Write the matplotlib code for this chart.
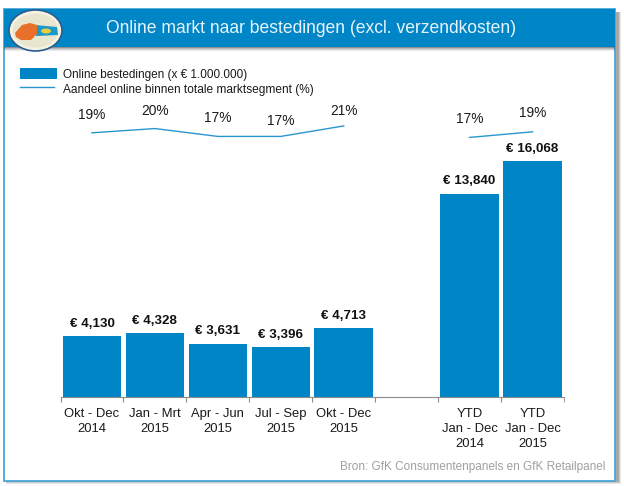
import numpy as np
import matplotlib
matplotlib.use("Agg")
import matplotlib.pyplot as plt
from matplotlib.patches import Rectangle, Ellipse, Polygon

plt.rcParams["font.family"] = ["Liberation Sans", "DejaVu Sans"]

# Data
periods = ["Okt - Dec\n2014", "Jan - Mrt\n2015", "Apr - Jun\n2015", "Jul - Sep\n2015",
           "Okt - Dec\n2015", "", "YTD\nJan - Dec\n2014", "YTD\nJan - Dec\n2015"]
spend = [4130, 4328, 3631, 3396, 4713, np.nan, 13840, 16068]
spend_labels = ["€ 4,130", "€ 4,328", "€ 3,631", "€ 3,396", "€ 4,713", "", "€ 13,840", "€ 16,068"]
share = [18.5, 19.8, 17.4, 17.4, 20.6, np.nan, 17.1, 18.8]
share_labels = ["19%", "20%", "17%", "17%", "21%", "", "17%", "19%"]

BLUE = "#0085c7"
W, H = 624, 486

fig = plt.figure(figsize=(W / 100, H / 100), dpi=100, facecolor="white")

# Overlay in pixel coordinates for the frame, header and logo
bg = fig.add_axes([0, 0, 1, 1], zorder=0)
bg.set_xlim(0, W)
bg.set_ylim(H, 0)
bg.axis("off")

# Soft shadow of the frame
for grow, alpha in [(3, 0.12), (2, 0.18), (1, 0.25)]:
    bg.add_patch(Rectangle((6, 12), 612 + grow, 469 + grow, fc="#444444", ec="none", alpha=alpha))
bg.add_patch(Rectangle((4, 9), 611, 472, fc="white", ec="#4ba6d8", lw=1.3))

# Header band and its shadow
for i, alpha in enumerate([0.55, 0.35, 0.2, 0.1]):
    bg.add_patch(Rectangle((4, 47 + i), 611, 1, fc="#333333", ec="none", alpha=alpha))
bg.add_patch(Rectangle((4, 9), 611, 38, fc=BLUE, ec="none"))
bg.text(311, 28.5, "Online markt naar bestedingen (excl. verzendkosten)", color="#e8f4fb",
        fontsize=12.65, ha="center", va="center")

# Logo
bg.add_patch(Ellipse((35.5, 30.5), 53, 41, fc="#f5f2e2", ec="#2a5c90", lw=1.2))
bg.add_patch(Ellipse((35.5, 30.5), 46, 34, fc="#e9e6cf", ec="none"))
bg.add_patch(Polygon([[35, 25], [57, 27], [58, 35], [36, 36]], fc="#1b9ac9", ec="none"))
bg.add_patch(Ellipse((46, 31), 10, 5, fc="#e6cf3a", ec="none"))
bg.add_patch(Polygon([[15, 33], [22, 25], [30, 23], [37, 25], [37, 34], [31, 40], [21, 40], [16, 37]],
                     fc="#e8702a", ec="none"))

# Legend
bg.add_patch(Rectangle((20, 68), 37, 11, fc=BLUE, ec="none"))
bg.plot([20, 54], [87, 87], color="#2a96cf", lw=1)
bg.text(63, 75, "Online bestedingen (x € 1.000.000)", fontsize=8.5, va="center", color="#1a1a1a")
bg.text(63, 89.5, "Aandeel online binnen totale marktsegment (%)", fontsize=8.6, va="center", color="#1a1a1a")

bg.text(605, 467, "Bron: GfK Consumentenpanels en GfK Retailpanel", fontsize=8.5,
        color="#a0a0a0", ha="right", va="center")

# Bars, axes spans x 60.5-564 and y 100-397 in pixels
ax = fig.add_axes([60.5 / W, 1 - 397 / H, (564 - 60.5) / W, 297 / H], zorder=1)
ax.patch.set_alpha(0)
x = np.arange(len(periods))
ax.bar(x, spend, width=0.93, color=BLUE)
ax.set_xlim(-0.5, 7.5)
ax.set_ylim(0, 297 / 0.01469)
for s in ["top", "left", "right"]:
    ax.spines[s].set_visible(False)
ax.spines["bottom"].set_color("#8c8c8c")
ax.yaxis.set_visible(False)
ax.set_xticks(x - 0.5)
ax.set_xticks([7.5], minor=True)
ax.set_xticklabels([])
ax.tick_params(axis="x", which="both", length=3.5, color="#8c8c8c")

for xi, label in zip(x, periods):
    ax.annotate(label, (xi, 0), xytext=(0, -8), textcoords="offset points", ha="center", va="top",
                fontsize=9.4, color="#1a1a1a", linespacing=1.3)

for xi, v, label in zip(x, spend, spend_labels):
    if label:
        ax.annotate(label, (xi, v), xytext=(0, 4.5), textcoords="offset points", ha="center", va="bottom",
                    fontsize=9.6, fontweight="bold", color="#111111")

# Share line on its own scale
ax2 = ax.twinx()
ax2.set_ylim(-62, 28.5)
ax2.axis("off")
ax2.plot(x, share, color="#2a96cf", lw=1)
label_gaps = [18, 18, 18, 15, 15, 0, 18, 18.5]
for xi, v, label, gap in zip(x, share, share_labels, label_gaps):
    if label:
        ax2.annotate(label, (xi, v), xytext=(0, gap * 0.72), textcoords="offset points", ha="center",
                     va="center", fontsize=9.9, color="#1a1a1a")

fig.savefig("out.png", dpi=100)
